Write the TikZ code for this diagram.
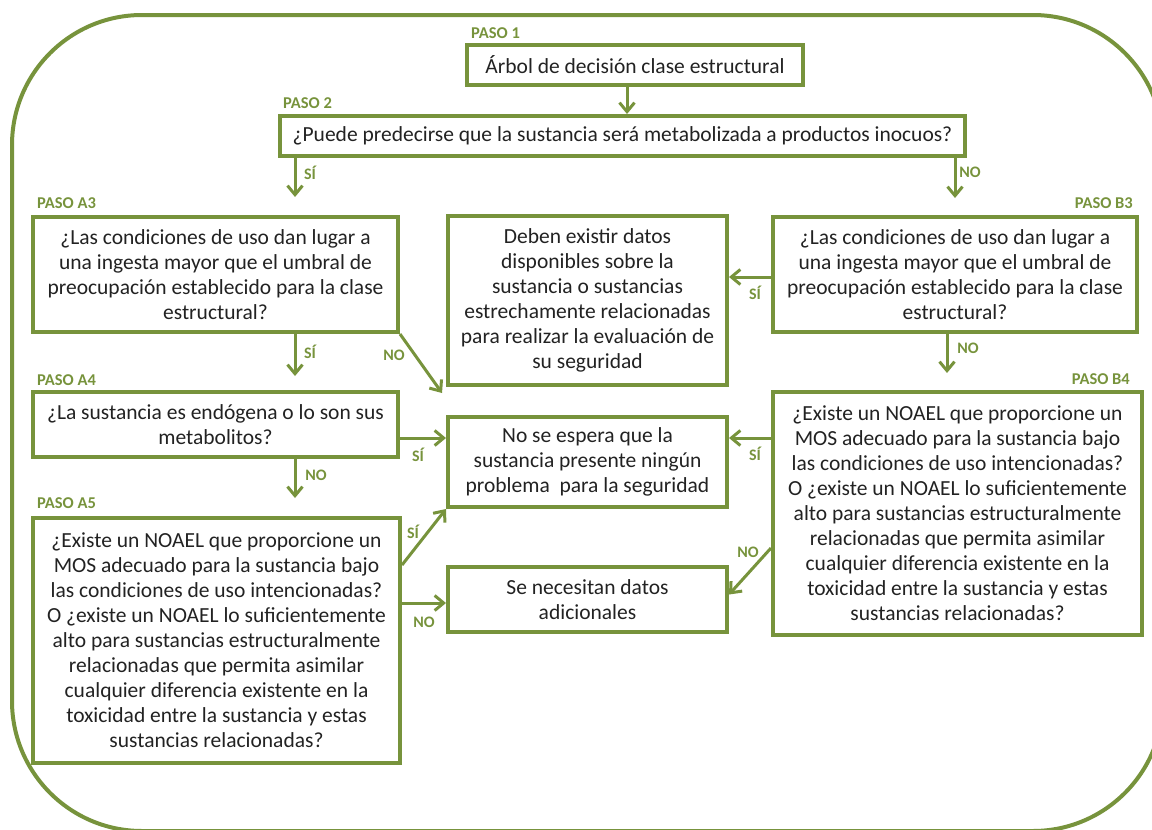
\documentclass[tikz,border=0pt]{standalone}
\usepackage{fontspec}
\setmainfont{Carlito}
\usetikzlibrary{arrows.meta,calc}
\definecolor{gr}{HTML}{77933C}
\definecolor{tx}{HTML}{222222}
\begin{document}
\begin{tikzpicture}[x=1pt,y=-1pt,
 box/.style={draw=gr, line width=4pt, align=center, inner sep=0pt, text=tx, font=\fontsize{21.5}{25}\selectfont},
 paso/.style={text=gr, font=\fontsize{16.5}{16.5}\selectfont\bfseries, inner sep=0pt},
 lbl/.style={text=gr, font=\fontsize{16}{16}\selectfont\bfseries, inner sep=0pt},
 arr/.style={draw=gr, line width=3pt, -{Straight Barb[length=9pt,width=15pt]}}]
\useasboundingbox (0,0) rectangle (1152,830);
\begin{scope}
\clip (0,0) rectangle (1152,830);
\draw[gr, line width=4pt] (12,145) arc[start angle=180, end angle=270, radius=130]
  -- (1033,15) arc[start angle=270, end angle=360, radius=130]
  -- (1163,701) arc[start angle=0, end angle=90, radius=130]
  -- (142,831) arc[start angle=90, end angle=180, radius=130] -- cycle;
\end{scope}

% boxes
\node[box, minimum width=336pt, minimum height=40pt] (b1) at (635,65) {Árbol de decisión clase estructural};
\node[box, minimum width=685pt, minimum height=40pt] (b2) at (622.5,136) {¿Puede predecirse que la sustancia será metabolizada a productos inocuos?};
\node[box, minimum width=365pt, minimum height=115pt] (a3) at (215.5,274.5) {¿Las condiciones de uso dan lugar a\\una ingesta mayor que el umbral de\\preocupación establecido para la clase\\estructural?};
\node[box, minimum width=279pt, minimum height=169pt] (deb) at (587.5,300.5) {Deben existir datos\\disponibles sobre la\\sustancia o sustancias\\estrechamente relacionadas\\para realizar la evaluación de\\su seguridad};
\node[box, minimum width=364pt, minimum height=115pt] (b3) at (955,274.5) {¿Las condiciones de uso dan lugar a\\una ingesta mayor que el umbral de\\preocupación establecido para la clase\\estructural?};
\node[box, minimum width=365pt, minimum height=65pt] (a4) at (215.5,424.5) {¿La sustancia es endógena o lo son sus\\metabolitos?};
\node[box, minimum width=279pt, minimum height=90pt] (nose) at (587.5,462) {No se espera que la\\sustancia presente ningún\\problema\ \ para la seguridad};
\node[box, minimum width=369pt, minimum height=243pt] (b4) at (957.5,513.5) {¿Existe un NOAEL que proporcione un\\MOS adecuado para la sustancia bajo\\las condiciones de uso intencionadas?\\O ¿existe un NOAEL lo suficientemente\\alto para sustancias estructuralmente\\relacionadas que permita asimilar\\cualquier diferencia existente en la\\toxicidad entre la sustancia y estas\\sustancias relacionadas?};
\node[box, minimum width=367pt, minimum height=245pt] (a5) at (216.5,640.5) {¿Existe un NOAEL que proporcione un\\MOS adecuado para la sustancia bajo\\las condiciones de uso intencionadas?\\O ¿existe un NOAEL lo suficientemente\\alto para sustancias estructuralmente\\relacionadas que permita asimilar\\cualquier diferencia existente en la\\toxicidad entre la sustancia y estas\\sustancias relacionadas?};
\node[box, minimum width=279pt, minimum height=65pt] (senec) at (587.5,599.5) {Se necesitan datos\\adicionales};

% step labels
\node[paso, anchor=west] (p1) at (471,33) {PASO 1};
\node[paso, anchor=west] (p2) at (283,103) {PASO 2};
\node[paso, anchor=west] (pa3) at (37,203) {PASO A3};
\node[paso, anchor=east] (pb3) at (1133,203) {PASO B3};
\node[paso, anchor=west] (pa4) at (37,380) {PASO A4};
\node[paso, anchor=east] (pb4) at (1130,379) {PASO B4};
\node[paso, anchor=west] (pa5) at (37,503) {PASO A5};

% helper coordinates
\coordinate (x1) at (627,0);
\coordinate (xl) at (295,0);
\coordinate (xr) at (955,0);
\coordinate (xb) at (947,0);
\coordinate (y438) at (0,438);
\coordinate (y277) at (0,277);
\coordinate (y565) at (0,565);
\coordinate (y603) at (0,603);
\coordinate (y548) at (0,548);
\coordinate (ea3) at (295,197);
\coordinate (eb3) at (955,198);
\coordinate (ea4) at (295,376);
\coordinate (eb4) at (947,373);
\coordinate (ea5) at (295,498);
\coordinate (eno) at (442,393);

% connectors
\draw[arr] (b1.south -| x1) -- (b2.north -| x1);
\draw[arr] (b2.south -| xl) -- (ea3);
\draw[arr] (b2.south -| xr) -- (eb3);
\draw[arr] (a3.south -| xl) -- (ea4);
\draw[arr] (a3.south east) -- (eno);
\draw[arr] (b3.west |- y277) -- (deb.east |- y277);
\draw[arr] (b3.south -| xb) -- (eb4);
\draw[arr] (a4.east |- y438) -- (nose.west |- y438);
\draw[arr] (a4.south -| xl) -- (ea5);
\draw[arr] (b4.west |- y438) -- (nose.east |- y438);
\draw[arr] (a5.east |- y565) -- (nose.south west);
\draw[arr] (a5.east |- y603) -- (senec.west |- y603);
\draw[arr] (b4.west |- y548) -- ($(senec.east)+(0,-5)$);

% connector labels
\node[lbl] (l1) at (310,173) {SÍ};
\node[lbl] (l2) at (970,172) {NO};
\node[lbl] (l3) at (310,352) {SÍ};
\node[lbl] (l4) at (394,355) {NO};
\node[lbl] (l5) at (755,293) {SÍ};
\node[lbl] (l6) at (968,348) {NO};
\node[lbl] (l7) at (418,455) {SÍ};
\node[lbl] (l8) at (316,475) {NO};
\node[lbl] (l9) at (755,454) {SÍ};
\node[lbl] (l10) at (413,532) {SÍ};
\node[lbl] (l11) at (424,622) {NO};
\node[lbl] (l12) at (748,552) {NO};
\end{tikzpicture}
\end{document}
